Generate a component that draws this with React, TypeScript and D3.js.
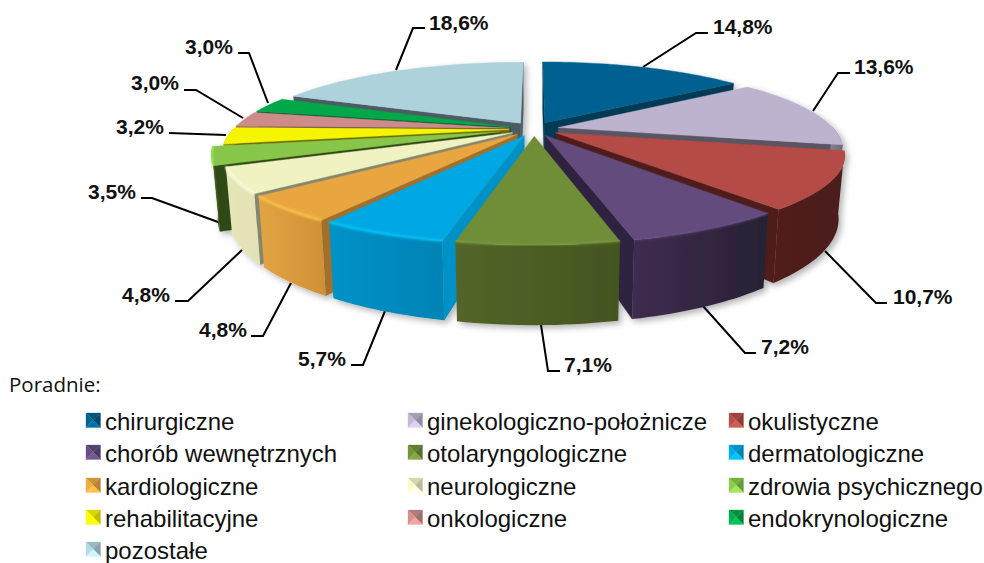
import React from "react";
import * as d3 from "d3";

const categories = ["chirurgiczne", "ginekologiczno-położnicze", "okulistyczne", "chorób wewnętrznych", "otolaryngologiczne", "dermatologiczne", "kardiologiczne", "neurologiczne", "zdrowia psychicznego", "rehabilitacyjne", "onkologiczne", "endokrynologiczne", "pozostałe"];
const shares = [14.8, 13.6, 10.7, 7.2, 7.1, 5.7, 4.8, 4.8, 3.5, 3.2, 3.0, 3.0, 18.6];
const topColors = ["#00618F", "#BEB3CE", "#B54B47", "#634B7E", "#708E38", "#00A8E3", "#E9A640", "#F1F2C2", "#88C64A", "#F5F500", "#CD8B8A", "#00A84A", "#AED2DC"];
const wallLight = ["#004A6C", "#8F869B", "#521F1E", "#3F2D50", "#536529", "#0092C8", "#E3A444", "#E6E5B8", "#41601F", "#9A9A00", "#8C5C5B", "#00702F", "#75909A"];
const wallDark = ["#003A55", "#6E6878", "#4C1E1C", "#272033", "#43551F", "#0083B5", "#CF9136", "#E3E2B4", "#3C561E", "#8A8A00", "#7A5050", "#006028", "#65808A"];
const sideColors = ["#003A55", "#5A5462", "#4F1F1E", "#2E2340", "#4A5A24", "#0091C6", "#A26F29", "#85866F", "#2F4A15", "#6B6800", "#6C4A4A", "#005A26", "#4C5D64"];
const rimGlow = [0, 0, 0, 0.35, 0.5, 1, 1, 1, 1, 0, 0, 0, 0];
const explodeBy = [0.09, 0.09, 0.09, 0.09, 0.09, 0.09, 0.09, 0.09, 0.125, 0.09, 0.09, 0.09, 0.09];
// leader line corners and label anchors
const labelTexts = ["14,8%", "13,6%", "10,7%", "7,2%", "7,1%", "5,7%", "4,8%", "4,8%", "3,5%", "3,2%", "3,0%", "3,0%", "18,6%"];
const leaders: [number, number][][] = [
  [[643, 67], [696, 33], [708, 33]],
  [[813, 111], [838, 73], [850, 73]],
  [[825, 251], [876, 303], [887, 303]],
  [[703, 306], [745, 353], [756, 353]],
  [[541, 325], [548, 371], [560, 371]],
  [[385, 311], [363, 365], [351, 365]],
  [[291, 283], [263, 336], [251, 336]],
  [[242, 250], [188, 301], [175, 301]],
  [[218, 222], [152, 198], [141, 198]],
  [[226, 135], [169, 133]],
  [[243, 118], [196, 90], [184, 90]],
  [[268, 103], [249, 53], [238, 53]],
  [[396, 70], [413, 28], [425, 28]],
];
const labelX = [713, 854, 893, 761, 564, 298, 199, 122, 88, 116, 131, 185, 429];
const labelY = [34, 74, 304, 354, 372, 366, 337, 302, 199, 134, 90, 54, 30];
const legendColumnX = [86, 408, 729];
const legendRowY = [413, 445, 478, 510, 542];

const CX = 534, CY = 129, RX = 276, RY = 78.3, K = 0.2425, DEPTH = 59, TAPER = 0.98;

type P = [number, number];
const persp = (v: number) => 1 / (1 - K * v);
const proj = (u: number, v: number): P => [CX + RX * u * persp(v), CY + RY * v * persp(v)];
const drop = (u: number, v: number): P => {
  const p = proj(u, v);
  return [CX + (p[0] - CX) * TAPER, p[1] + DEPTH * persp(v)];
};
const line = d3.line<P>();
const closed = (pts: P[]) => (line(pts) as string) + "Z";

const arcs = d3.pie<number>().sort(null).startAngle(0).endAngle(2 * Math.PI)(shares);

const slices = arcs.map((a, i) => {
  const mid = (a.startAngle + a.endAngle) / 2;
  const ou = Math.sin(mid) * explodeBy[i], ov = -Math.cos(mid) * explodeBy[i];
  const n = Math.max(6, Math.ceil((a.endAngle - a.startAngle) * 40));
  const rim = d3.range(n + 1).map((k) => {
    const t = a.startAngle + ((a.endAngle - a.startAngle) * k) / n;
    return [Math.sin(t) + ou, -Math.cos(t) + ov] as P;
  });
  const apex: P = [ou, ov];
  const top = [proj(...apex), ...rim.map((r) => proj(...r))];
  const startWall = [proj(...apex), proj(...rim[0]), drop(...rim[0]), drop(...apex)];
  const endWall = [proj(...rim[n]), proj(...apex), drop(...apex), drop(...rim[n])];
  const startVisible = proj(...rim[0])[0] < proj(...apex)[0];
  const endVisible = proj(...apex)[0] < proj(...rim[n])[0];
  const front = rim.filter((_, k) => {
    const t = a.startAngle + ((a.endAngle - a.startAngle) * k) / n;
    return t >= Math.PI / 2 - 0.02 && t <= (3 * Math.PI) / 2 + 0.02;
  });
  const outer = front.length > 1 ? [...front.map((r) => proj(...r)), ...front.slice().reverse().map((r) => drop(...r))] : null;
  const rimTop = front.map((r) => proj(...r));
  const xs = outer ? d3.extent(outer, (d) => d[0]) as [number, number] : [0, 1];
  return { i, depthKey: -Math.cos(mid), top, startWall, endWall, startVisible, endVisible, outer, rimTop, xs };
});
const paintOrder = d3.range(slices.length).sort((a, b) => d3.ascending(slices[a].depthKey, slices[b].depthKey));

function Marker({ x, y, color }: { x: number; y: number; color: string }) {
  const s = 14.5, m = 7.25;
  const c = d3.color(color)!;
  const faces: [P[], string][] = [
    [[[x, y], [x + s, y], [x + m, y + m]], c.darker(0.35).formatHex()],
    [[[x, y], [x, y + s], [x + m, y + m]], c.brighter(0.1).formatHex()],
    [[[x + s, y], [x + s, y + s], [x + m, y + m]], c.darker(0.7).formatHex()],
    [[[x, y + s], [x + s, y + s], [x + m, y + m]], c.brighter(0.45).formatHex()],
  ];
  return <g>{faces.map(([pts, f], k) => <path key={k} d={closed(pts)} fill={f} stroke={f} strokeWidth={0.3} />)}</g>;
}

export default function App() {
  return (
    <svg width={984} height={563} style={{ position: "absolute", left: 0, top: 0, background: "#fff" }}>
      <defs>
        <filter id="pieShadow" x="-10%" y="-10%" width="120%" height="120%">
          <feDropShadow dx={3} dy={3} stdDeviation={3} floodColor="#000" floodOpacity={0.3} />
        </filter>
        <filter id="soft" x="-5%" y="-20%" width="110%" height="140%">
          <feGaussianBlur stdDeviation={0.9} />
        </filter>
        {slices.map((s) => (
          <linearGradient key={s.i} id={`wall${s.i}`} gradientUnits="userSpaceOnUse" x1={s.xs[0]} x2={s.xs[1]} y1={0} y2={0}>
            <stop offset="0" stopColor={wallLight[s.i]} />
            <stop offset="1" stopColor={wallDark[s.i]} />
          </linearGradient>
        ))}
      </defs>

      {leaders.map((pts, i) => (
        <path key={i} d={line(pts) as string} fill="none" stroke="#000" strokeWidth={2} />
      ))}

      <g filter="url(#pieShadow)">
        {paintOrder.map((idx) => {
          const s = slices[idx];
          return (
            <g key={idx}>
              {s.startVisible && <path d={closed(s.startWall)} fill={sideColors[idx]} stroke={sideColors[idx]} strokeWidth={0.4} />}
              {s.endVisible && <path d={closed(s.endWall)} fill={sideColors[idx]} stroke={sideColors[idx]} strokeWidth={0.4} />}
              {s.outer && <path d={closed(s.outer)} fill={`url(#wall${idx})`} />}
              <path d={closed(s.top)} fill={topColors[idx]} stroke={topColors[idx]} strokeWidth={0.4} />
              {s.rimTop.length > 1 && rimGlow[idx] > 0 && (
                <path d={line(s.rimTop) as string} fill="none" stroke={d3.color(topColors[idx])!.brighter(0.5).formatHex()} strokeOpacity={rimGlow[idx]} strokeWidth={2.2} filter="url(#soft)" />
              )}
            </g>
          );
        })}
      </g>

      <g fontFamily="'Liberation Sans', Arial, sans-serif" fontWeight={700} fontSize={21} fill="#111">
        {labelTexts.map((t, i) => <text key={i} x={labelX[i]} y={labelY[i]}>{t}</text>)}
      </g>

      <text x={9} y={392} fontFamily="'Open Sans', sans-serif" fontSize={20.5} fill="#111">Poradnie:</text>

      <g fontFamily="'Liberation Sans', Arial, sans-serif" fontSize={24} fill="#111">
        {categories.map((c, i) => {
          const col = i % 3, row = Math.floor(i / 3);
          const x = legendColumnX[col], y = legendRowY[row];
          return (
            <g key={c}>
              <Marker x={x} y={y} color={topColors[i]} />
              <text x={x + 19} y={y + 17}>{c}</text>
            </g>
          );
        })}
      </g>
    </svg>
  );
}
